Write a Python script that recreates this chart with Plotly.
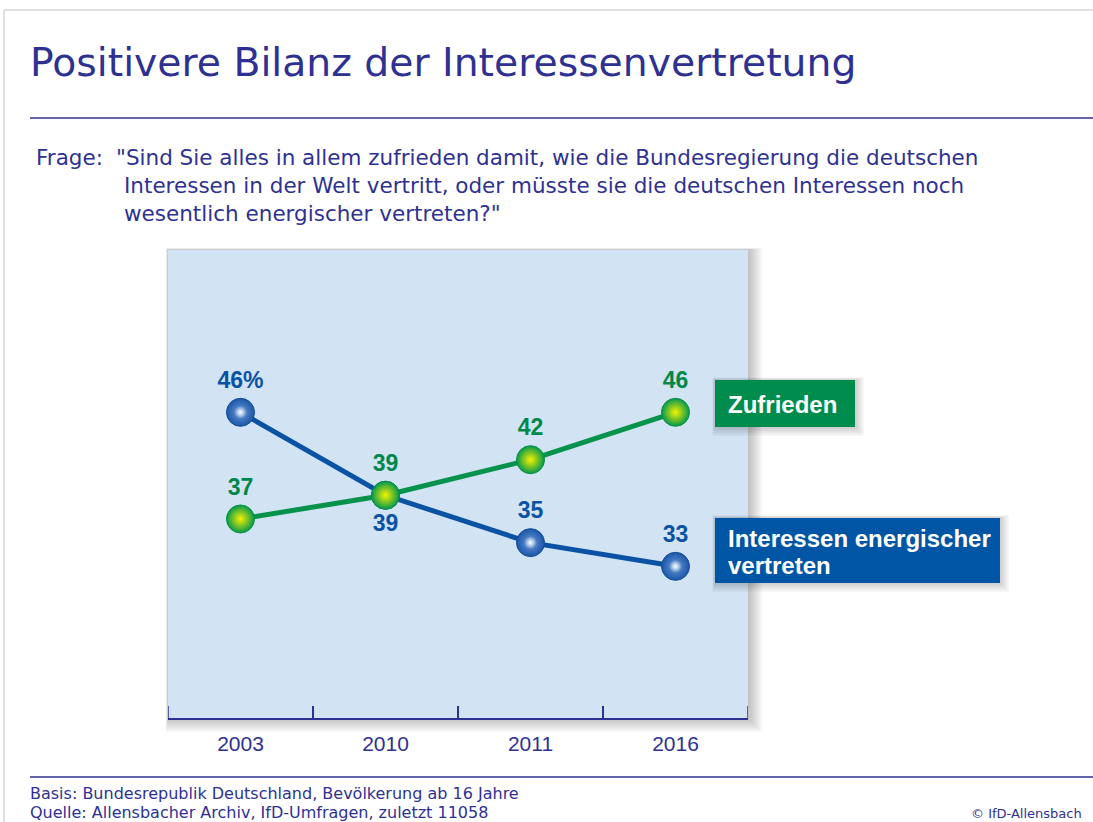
import plotly.graph_objects as go

years = ["2003", "2010", "2011", "2016"]
zufrieden = [37, 39, 42, 46]
energischer = [46, 39, 35, 33]
zuf_labels = ["37", "39", "42", "46"]
ene_labels = ["46%", "39", "35", "33"]
ene_pos = ["top center", "bottom center", "top center", "top center"]

W, H = 1093, 822
L, R, T, B = 168, 748, 250, 718
DARK = "#2e3192"
BLUE = "#0a52a3"
GREEN = "#00884a"
FONT = "DejaVu Sans"
BFONT = "Liberation Sans"

def px(x):
    return (x - L) / (R - L)

def py(y):
    return (B - y) / (B - T)

fig = go.Figure()
fig.add_trace(go.Scatter(
    x=years, y=energischer, mode="lines+markers+text",
    line=dict(color="#0a52a3", width=5),
    marker=dict(size=28, color="#1a56a8", line=dict(width=1, color="#144b97"),
                gradient=dict(type="radial", color="#6e9ad8")),
    text=ene_labels, textposition=ene_pos,
    textfont=dict(family=BFONT, size=23, color=BLUE, weight="bold"),
    cliponaxis=False, showlegend=False, hoverinfo="skip"))
fig.add_trace(go.Scatter(
    x=years, y=energischer, mode="markers",
    marker=dict(size=13, color="rgba(255,255,255,0)", line=dict(width=0),
                gradient=dict(type="radial", color="#ffffff")),
    showlegend=False, hoverinfo="skip"))
fig.add_trace(go.Scatter(
    x=years, y=zufrieden, mode="lines+markers+text",
    line=dict(color="#05924a", width=5),
    marker=dict(size=28, color="#03994c", line=dict(width=1, color="#068f48"),
                gradient=dict(type="radial", color="#f6f200")),
    text=zuf_labels, textposition="top center",
    textfont=dict(family=BFONT, size=23, color=GREEN, weight="bold"),
    cliponaxis=False, showlegend=False, hoverinfo="skip"))

shapes = []
# outer page frame
shapes.append(dict(type="line", xref="paper", yref="paper", x0=px(4), x1=px(W), y0=py(10), y1=py(10),
                   line=dict(color="#d6d6d6", width=1.5), layer="below"))
shapes.append(dict(type="line", xref="paper", yref="paper", x0=px(4), x1=px(4), y0=py(10), y1=py(H),
                   line=dict(color="#d6d6d6", width=1.5), layer="below"))
# title rule and footer rule
shapes.append(dict(type="line", xref="paper", yref="paper", x0=px(30), x1=px(W), y0=py(118), y1=py(118),
                   line=dict(color=DARK, width=1.5)))
shapes.append(dict(type="line", xref="paper", yref="paper", x0=px(30), x1=px(W), y0=py(777), y1=py(777),
                   line=dict(color=DARK, width=1.5)))

def shadow(x0, y0, x1, y1, steps=8, spread=10, back=0.15):
    for i in range(steps, 0, -1):
        d = spread * i / steps
        shapes.append(dict(type="rect", xref="paper", yref="paper",
                           x0=px(x0 - d * back), x1=px(x1 + d), y0=py(y0 - d * back), y1=py(y1 + d),
                           fillcolor="rgba(0,0,0,0.03)", line=dict(width=0), layer="below"))

shadow(L, T, R, B, steps=8, spread=14)
shapes.append(dict(type="rect", xref="paper", yref="paper", x0=0, x1=1, y0=0, y1=1,
                   fillcolor="#d2e3f4", line=dict(width=0), layer="below"))
# edge ticks of the x axis
for xe in (-0.5, len(years) - 0.5):
    shapes.append(dict(type="line", xref="x", yref="paper", x0=xe, x1=xe, y0=0, y1=12 / (B - T),
                       line=dict(color=DARK, width=1.5)))

# legend boxes
shadow(715, 380, 855, 427, steps=6, spread=9, back=0.3)
shapes.append(dict(type="rect", xref="paper", yref="paper", x0=px(715), x1=px(855), y0=py(380), y1=py(427),
                   fillcolor="#008c4c", line=dict(width=0)))
shadow(715, 518, 1000, 583, steps=6, spread=9, back=0.3)
shapes.append(dict(type="rect", xref="paper", yref="paper", x0=px(715), x1=px(1000), y0=py(518), y1=py(583),
                   fillcolor="#0055a5", line=dict(width=0)))

def txt(t, x, y, size, color=DARK, xanchor="left", family=FONT):
    return dict(text=t, xref="paper", yref="paper", x=px(x), y=py(y), xanchor=xanchor, yanchor="middle",
                showarrow=False, align="left", font=dict(family=family, size=size, color=color))

ann = []
ann.append(txt("Positivere Bilanz der Interessenvertretung", 28, 62, 39.3))
ann.append(txt("Frage:", 34, 157, 21.5))
q_lines = ['"Sind Sie alles in allem zufrieden damit, wie die Bundesregierung die deutschen',
           'Interessen in der Welt vertritt, oder müsste sie die deutschen Interessen noch',
           'wesentlich energischer vertreten?"']
q_x = [114, 122, 122]
for i, (t, xx) in enumerate(zip(q_lines, q_x)):
    ann.append(txt(t, xx, 157 + 28 * i, 21.5))
ann.append(txt("<b>Zufrieden</b>", 726, 404, 24, "white", family=BFONT))
ann.append(txt("<b>Interessen energischer</b>", 726, 538, 24, "white", family=BFONT))
ann.append(txt("<b>vertreten</b>", 726, 565, 24, "white", family=BFONT))
ann.append(txt("Basis: Bundesrepublik Deutschland, Bevölkerung ab 16 Jahre", 28, 793, 16))
ann.append(txt("Quelle: Allensbacher Archiv, IfD-Umfragen, zuletzt 11058", 28, 812, 16))
ann.append(txt("© IfD-Allensbach", 1084, 813, 13, xanchor="right"))

fig.update_layout(
    width=W, height=H, margin=dict(l=L, r=W - R, t=T, b=H - B, pad=0),
    paper_bgcolor="white", plot_bgcolor="rgba(0,0,0,0)",
    shapes=shapes, annotations=ann,
    xaxis=dict(type="category", range=[-0.5, 3.5], showgrid=False, zeroline=False,
               showline=True, linecolor=DARK, linewidth=2, ticks="inside", tickson="boundaries",
               ticklen=12, tickcolor=DARK, tickwidth=1.5,
               tickfont=dict(family=BFONT, size=21, color=DARK), ticklabelstandoff=6),
    yaxis=dict(range=[20.2, 59.7], visible=False, showgrid=False, zeroline=False),
)
fig.write_html("out.html", config={"displayModeBar": False},
               post_script="document.body.style.margin='0';document.body.style.overflow='hidden';")
